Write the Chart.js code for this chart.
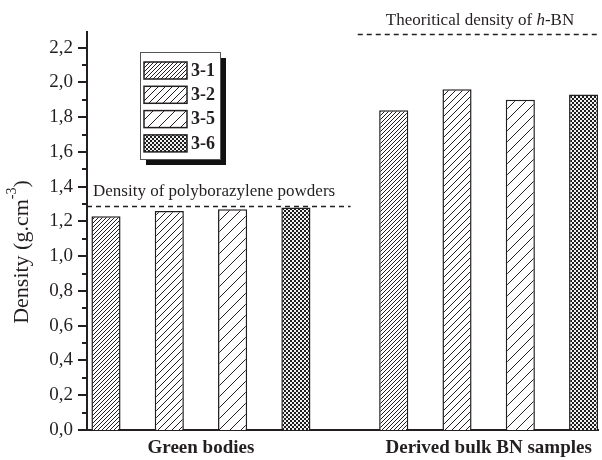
<!DOCTYPE html>
<html>
<head>
<meta charset="utf-8">
<script src="https://cdn.jsdelivr.net/npm/chart.js@4.4.1/dist/chart.umd.min.js"></script>
<style>
    html, body { margin: 0; padding: 0; background: #fff; }
</style>
</head>
<body>
<canvas id="densityChart" width="602" height="460"></canvas>
<script>
// sample groups and series
const groups = ['Green bodies', 'Derived bulk BN samples'];
const seriesNames = ['3-1', '3-2', '3-5', '3-6'];

// density values (g.cm-3) per series, one per group
const density31 = [1.23, 1.84];
const density32 = [1.26, 1.96];
const density35 = [1.27, 1.90];
const density36 = [1.28, 1.93];

const yTicks = [0, 0.2, 0.4, 0.6, 0.8, 1.0, 1.2, 1.4, 1.6, 1.8, 2.0, 2.2];

// reference densities
const polyborazyleneDensity = 1.29;
const hbnDensity = 2.28;

const ink = '#231f20';
const serif = '"Liberation Serif", "DejaVu Serif", serif';

/** diagonal "/" hatch with horizontal spacing gap **/
function hatch(gap, lineWidth)
{
    const c = document.createElement('canvas');
    c.width = gap;
    c.height = gap;
    const g = c.getContext('2d');
    g.fillStyle = '#fff';
    g.fillRect(0, 0, gap, gap);
    g.strokeStyle = ink;
    g.lineWidth = lineWidth;
    g.beginPath();
    for (let k = -1; k <= 1; k++) {
        g.moveTo(k * gap, gap);
        g.lineTo(k * gap + gap, 0);
    }
    g.stroke();
    return g.createPattern(c, 'repeat');
}

/** fine dark checker **/
function checker()
{
    const c = document.createElement('canvas');
    c.width = 4;
    c.height = 4;
    const g = c.getContext('2d');
    g.fillStyle = '#1e1e1e';
    g.fillRect(0, 0, 4, 4);
    g.fillStyle = '#f2f2f2';
    g.fillRect(0, 0, 2, 2);
    g.fillRect(2, 2, 2, 2);
    return g.createPattern(c, 'repeat');
}

const patterns = [hatch(4, 1), hatch(7, 1), hatch(11, 1), checker()];
const seriesValues = [density31, density32, density35, density36];

const datasets = seriesNames.map((name, i) => ({
    label: name,
    data: seriesValues[i].map((v, g) => ({x: g, y: v})),
    backgroundColor: patterns[i],
    borderColor: ink,
    borderWidth: 1.5,
    categoryPercentage: 0.88,
    barPercentage: 0.46,
}));

/** tick marks on the density axis, long on labels, short between **/
const tickMarks = {
    id: 'tickMarks',
    afterDraw(chart) {
        const {ctx, scales: {y}, chartArea} = chart;
        ctx.save();
        ctx.strokeStyle = ink;
        ctx.lineWidth = 2;
        for (let i = 0; i < yTicks.length; i++) {
            const vals = [yTicks[i]];
            if (i < yTicks.length - 1) vals.push((yTicks[i] + yTicks[i + 1]) / 2);
            vals.forEach((v, k) => {
                const py = Math.round(y.getPixelForValue(v));
                const len = k === 0 ? 9 : 5;
                ctx.beginPath();
                ctx.moveTo(chartArea.left, py);
                ctx.lineTo(chartArea.left - len, py);
                ctx.stroke();
            });
        }
        ctx.restore();
    }
};

/** y title with superscript */
const yTitle = {
    id: 'yTitle',
    afterDraw(chart) {
        const {ctx, chartArea} = chart;
        const main = 'Density (g.cm';
        const sup = '-3';
        const close = ')';
        ctx.save();
        ctx.fillStyle = ink;
        ctx.translate(22, (chartArea.top + chartArea.bottom) / 2 + 21);
        ctx.rotate(-Math.PI / 2);
        ctx.textBaseline = 'middle';
        ctx.font = `22px ${serif}`;
        const w1 = ctx.measureText(main).width;
        const w3 = ctx.measureText(close).width;
        ctx.font = `14px ${serif}`;
        const w2 = ctx.measureText(sup).width;
        let x = -(w1 + w2 + w3) / 2;
        ctx.font = `22px ${serif}`;
        ctx.fillText(main, x, 0);
        x += w1;
        ctx.font = `14px ${serif}`;
        ctx.fillText(sup, x, -10);
        x += w2;
        ctx.font = `22px ${serif}`;
        ctx.fillText(close, x, 0);
        ctx.restore();
    }
};

/** dashed reference densities with their captions **/
const referenceLines = {
    id: 'referenceLines',
    afterDatasetsDraw(chart) {
        const {ctx, scales: {x, y}} = chart;
        ctx.save();
        ctx.strokeStyle = ink;
        ctx.lineWidth = 1.3;
        ctx.setLineDash([5, 4]);

        const y1 = Math.round(y.getPixelForValue(polyborazyleneDensity)) + 0.5;
        ctx.beginPath();
        ctx.moveTo(x.left, y1);
        ctx.lineTo(x.getPixelForValue(0.52), y1);
        ctx.stroke();

        const y2 = Math.round(y.getPixelForValue(hbnDensity)) + 0.5;
        ctx.beginPath();
        ctx.moveTo(x.getPixelForValue(0.545), y2);
        ctx.lineTo(x.right, y2);
        ctx.stroke();

        ctx.setLineDash([]);
        ctx.fillStyle = ink;
        ctx.textBaseline = 'alphabetic';
        ctx.font = `17px ${serif}`;
        ctx.textAlign = 'left';
        ctx.fillText('Density of polyborazylene powders', x.left + 6, y1 - 11);

        // "Theoritical density of h-BN", h in italic
        const a = 'Theoritical density of ';
        const b = 'h';
        const c = '-BN';
        const wa = ctx.measureText(a).width;
        const wc = ctx.measureText(c).width;
        ctx.font = `italic 17px ${serif}`;
        const wb = ctx.measureText(b).width;
        let tx = x.getPixelForValue(0.97) - (wa + wb + wc) / 2;
        const ty = y2 - 10;
        ctx.font = `17px ${serif}`;
        ctx.fillText(a, tx, ty);
        tx += wa;
        ctx.font = `italic 17px ${serif}`;
        ctx.fillText(b, tx, ty);
        tx += wb;
        ctx.font = `17px ${serif}`;
        ctx.fillText(c, tx, ty);
        ctx.restore();
    }
};

/** boxed legend with a drop shadow **/
const boxLegend = {
    id: 'boxLegend',
    afterDraw(chart) {
        const {ctx} = chart;
        const bx = 140, by = 52, bw = 80, bh = 107;
        ctx.save();
        ctx.fillStyle = '#111';
        ctx.fillRect(bx + 6, by + 6, bw, bh);
        ctx.fillStyle = '#fff';
        ctx.fillRect(bx, by, bw, bh);
        ctx.strokeStyle = '#555';
        ctx.lineWidth = 1;
        ctx.strokeRect(bx + 0.5, by + 0.5, bw, bh);

        ctx.font = `bold 18px ${serif}`;
        ctx.textBaseline = 'middle';
        seriesNames.forEach((name, i) => {
            const sy = 62 + i * 24.3;
            ctx.fillStyle = patterns[i];
            ctx.fillRect(144, sy, 43, 17);
            ctx.strokeStyle = ink;
            ctx.lineWidth = 1.5;
            ctx.strokeRect(144, sy, 43, 17);
            ctx.fillStyle = ink;
            ctx.fillText(name, 191, sy + 9);
        });
        ctx.restore();
    }
};

new Chart(document.getElementById('densityChart'), {
    type: 'bar',
    data: {datasets: datasets},
    options: {
        responsive: false,
        animation: false,
        layout: {padding: {top: 32, right: 4, bottom: 0, left: 0}},
        plugins: {
            legend: {display: false},
            tooltip: {enabled: false},
        },
        scales: {
            x: {
                type: 'linear',
                offset: false,
                min: -0.396,
                max: 1.38,
                grid: {display: false, drawTicks: false},
                border: {display: true, color: ink, width: 2},
                afterBuildTicks: s => { s.ticks = groups.map((g, i) => ({value: i})); },
                afterFit: s => { s.height = 30; },
                ticks: {
                    color: ink,
                    padding: 7,
                    maxRotation: 0,
                    font: {family: serif, size: 19, weight: 'bold'},
                    callback: v => groups[v],
                },
            },
            y: {
                min: 0,
                max: 2.29,
                grid: {display: false, drawTicks: false},
                border: {display: true, color: ink, width: 2},
                afterBuildTicks: s => { s.ticks = yTicks.map(v => ({value: v})); },
                afterFit: s => { s.width = 87; },
                ticks: {
                    color: ink,
                    padding: 14,
                    font: {family: serif, size: 19},
                    callback: v => v.toFixed(1).replace('.', ','),
                },
            },
        },
    },
    plugins: [tickMarks, yTitle, referenceLines, boxLegend],
});
</script>
</body>
</html>
